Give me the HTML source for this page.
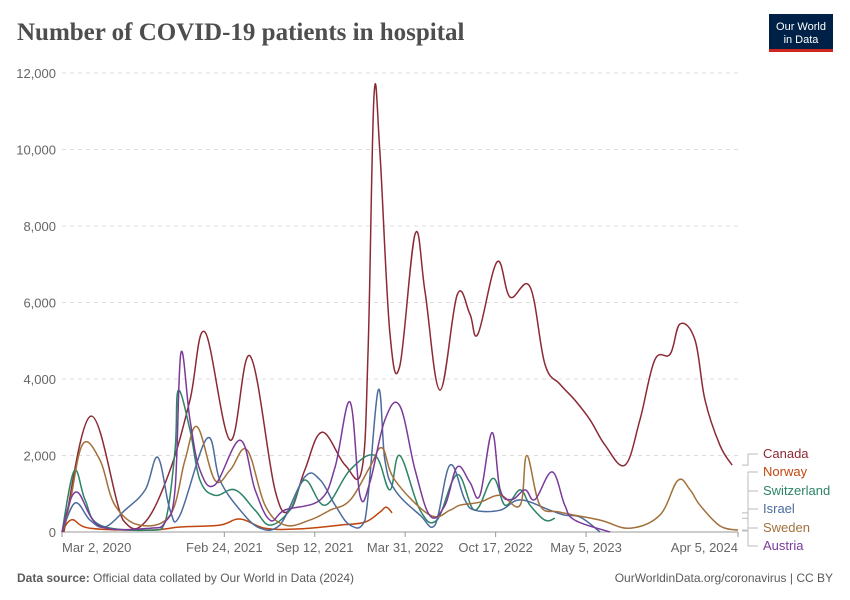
<!DOCTYPE html>
<html><head><meta charset="utf-8"><style>
body{margin:0;background:#fff;font-family:"Liberation Sans",sans-serif}
#wrap{position:relative;width:850px;height:600px;overflow:hidden}
</style></head><body>
<div id="wrap">
<svg id="chart" width="850" height="600">
<text x="17" y="40" font-family="Liberation Serif,serif" font-size="25" font-weight="bold" fill="#4e4e4e">Number of COVID-19 patients in hospital</text>
<g>
<rect x="769" y="14" width="64" height="38" fill="#002147"/>
<rect x="769" y="49" width="64" height="3" fill="#ce261e"/>
<text x="801" y="30" font-size="11" fill="#fff" text-anchor="middle">Our World</text>
<text x="801" y="43" font-size="11" fill="#fff" text-anchor="middle">in Data</text>
</g>
<g id="grid"></g><g id="xaxis"></g><g id="series"></g><g id="labels"></g>
<text x="17" y="582" font-size="12" fill="#5b5b5b"><tspan font-weight="bold">Data source:</tspan> Official data collated by Our World in Data (2024)</text>
<text x="833" y="582" font-size="12" fill="#5b5b5b" text-anchor="end">OurWorldinData.org/coronavirus | CC BY</text>
</svg>
</div>
<script>
const yTicks=[0,2000,4000,6000,8000,10000,12000];
const yTickLabels=["0","2,000","4,000","6,000","8,000","10,000","12,000"];
const xTickDays=[0,359,559,759,959,1159,1495];
const xTickLabels=["Mar 2, 2020","Feb 24, 2021","Sep 12, 2021","Mar 31, 2022","Oct 17, 2022","May 5, 2023","Apr 5, 2024"];
const seriesNames=["Canada","Norway","Switzerland","Israel","Sweden","Austria"];
const canada=[[4,0],[64,3030],[135,314],[184,261],[239,1620],[283,3450],[316,5230],[372,2400],[416,4600],[471,1100],[504,575],[537,1620],[575,2610],[626,1750],[663,1620],[677,4760],[690,11400],[703,9930],[725,5230],[747,4340],[781,7790],[803,6270],[836,3710],[874,6200],[902,5700],[920,5180],[962,7060],[991,6140],[1035,6410],[1068,4390],[1101,3870],[1134,3450],[1168,2930],[1201,2270],[1245,1750],[1278,2930],[1311,4500],[1345,4650],[1367,5440],[1400,5020],[1422,3450],[1455,2270],[1482,1750]];
const norway=[[0,0],[22,320],[62,100],[195,50],[261,130],[349,180],[394,340],[449,100],[526,80],[615,180],[670,260],[703,520],[717,650],[730,500]];
const switzerland=[[0,0],[27,1600],[51,840],[84,180],[195,50],[228,260],[250,2130],[257,3700],[283,2670],[305,1360],[338,960],[383,1100],[427,570],[460,180],[504,570],[537,1360],[582,700],[637,1620],[692,2000],[725,1100],[747,2000],[792,570],[829,310],[874,1500],[913,570],[953,1400],[980,700],[1013,1100],[1035,700],[1068,310],[1090,360]];
const israel=[[0,0],[29,760],[62,310],[95,130],[139,570],[184,1100],[212,1950],[239,570],[261,440],[321,2450],[349,1360],[394,570],[438,100],[482,180],[537,1440],[571,1360],[604,700],[637,180],[670,310],[699,3700],[714,1880],[736,1100],[792,440],[825,180],[858,1750],[891,840],[913,570],[969,570],[1013,840],[1079,570],[1112,440],[1146,390],[1190,0]];
const sweden=[[0,0],[18,800],[46,2300],[84,1880],[117,700],[172,180],[239,440],[272,1880],[299,2750],[338,1360],[372,1620],[409,2150],[449,700],[493,180],[548,310],[593,570],[637,830],[681,1700],[708,2200],[736,1360],[814,440],[858,570],[880,700],[924,780],[969,960],[1013,700],[1028,2000],[1057,700],[1101,520],[1190,310],[1256,100],[1322,440],[1362,1350],[1389,1100],[1411,700],[1455,160],[1495,50]];
const austria=[[0,0],[31,1045],[84,150],[195,100],[228,260],[250,1100],[263,4680],[283,2930],[305,1620],[338,1230],[394,2400],[427,1100],[460,310],[493,575],[571,840],[604,1700],[637,3400],[659,950],[681,1300],[714,2930],[747,3300],[781,1620],[814,420],[847,700],[874,1700],[902,1300],[924,950],[951,2600],[969,1100],[995,850],[1024,1100],[1046,850],[1084,1570],[1112,700],[1134,310],[1212,0]];
const allSeries=[canada,norway,switzerland,israel,sweden,austria];
const colors=["#8c2a34","#c0450e","#2c8465","#4c6a9c","#a2703b","#7a3a9a"];
const labelY=[458,476,495,513,532,550];
const X0=62,X1=738,Y0=532,Y1=73,DMAX=1495,VMAX=12000;
const xs=d=>X0+d/DMAX*(X1-X0);
const ys=v=>Y0-v/VMAX*(Y0-Y1);
const NS="http://www.w3.org/2000/svg";
function mk(tag,parent){const e=document.createElementNS(NS,tag);document.getElementById(parent).appendChild(e);return e;}
function smooth(pts){
  const P=pts.map(p=>[xs(p[0]),ys(p[1])]);
  let d='M'+P[0][0].toFixed(1)+','+P[0][1].toFixed(1);
  const k=0.18;
  for(let i=0;i<P.length-1;i++){
    const p0=P[Math.max(0,i-1)],p1=P[i],p2=P[i+1],p3=P[Math.min(P.length-1,i+2)];
    let c1x=p1[0]+(p2[0]-p0[0])*k,c1y=p1[1]+(p2[1]-p0[1])*k;
    let c2x=p2[0]-(p3[0]-p1[0])*k,c2y=p2[1]-(p3[1]-p1[1])*k;
    c1y=Math.min(c1y,Y0);c2y=Math.min(c2y,Y0);
    d+='C'+c1x.toFixed(1)+','+c1y.toFixed(1)+' '+c2x.toFixed(1)+','+c2y.toFixed(1)+' '+p2[0].toFixed(1)+','+p2[1].toFixed(1);
  }
  return d;
}
yTicks.forEach((t,i)=>{
  const l=mk('line','grid');
  
  
  l.setAttribute('x1',X0);l.setAttribute('x2',X1);l.setAttribute('y1',ys(t));l.setAttribute('y2',ys(t));
  l.setAttribute('stroke',t===0?'#999':'#ddd');l.setAttribute('stroke-dasharray',t===0?'':'4,4');
  const tx=mk('text','grid');
  
  
  tx.setAttribute('x',56);tx.setAttribute('y',ys(t)+5);tx.setAttribute('text-anchor','end');
  tx.setAttribute('font-size','13');tx.setAttribute('fill','#666');tx.textContent=yTickLabels[i];
});
xTickDays.forEach((d,i)=>{
  const l=mk('line','xaxis');
  
  
  l.setAttribute('x1',xs(d));l.setAttribute('x2',xs(d));l.setAttribute('y1',Y0);l.setAttribute('y2',Y0+5);l.setAttribute('stroke','#999');
  const tx=mk('text','xaxis');
  
  
  let a='middle';if(i===0)a='start';if(i===xTickDays.length-1)a='end';
  tx.setAttribute('x',xs(d));tx.setAttribute('y',Y0+20);tx.setAttribute('text-anchor',a);
  tx.setAttribute('font-size','13');tx.setAttribute('fill','#666');tx.textContent=xTickLabels[i];
});
allSeries.forEach((s,i)=>{
  const p=mk('path','series');
  
  
  p.setAttribute('d',smooth(s));
  p.setAttribute('fill','none');p.setAttribute('stroke',colors[i]);p.setAttribute('stroke-width','1.5');p.setAttribute('stroke-linejoin','round');
  const last=s[s.length-1];
  const c=mk('path','labels');
  
  
  const ey=Math.min(ys(last[1]),Y0-1);
  c.setAttribute('d','M742,'+ey.toFixed(1)+'H748V'+(labelY[i]-4)+'H758');
  c.setAttribute('fill','none');c.setAttribute('stroke','#bbb');c.setAttribute('stroke-width','1');
  const t=mk('text','labels');
  
  
  t.setAttribute('x',763);t.setAttribute('y',labelY[i]);t.setAttribute('font-size','13');t.setAttribute('fill',colors[i]);
  t.textContent=seriesNames[i];
});
</script>
</body></html>
